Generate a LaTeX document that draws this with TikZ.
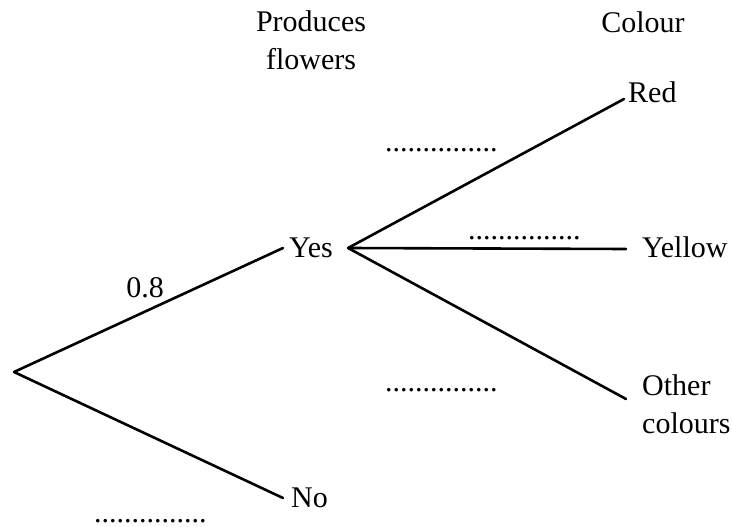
\documentclass[tikz,border=0pt]{standalone}
\usepackage{fontspec}
\setmainfont{Liberation Serif}
\begin{document}
\begin{tikzpicture}[x=1pt,y=-1pt,
  lbl/.style={inner sep=0pt, font=\fontsize{30}{38}\selectfont},
  branch/.style={line width=2.6pt, line cap=round}]
\useasboundingbox (0,0) rectangle (732,527);
% headers
\node[lbl, align=center, anchor=base] (hdr1) at (311,70) {Produces\\flowers};
\node[lbl, anchor=base] (hdr2) at (643,33) {Colour};
% nodes
\coordinate (root) at (14,372);
\node[lbl, anchor=west, inner xsep=6pt] (yes) at (283,248) {Yes};
\node[lbl, anchor=west, inner xsep=8pt] (no) at (283,498) {No};
\node[lbl, anchor=west, inner xsep=4pt] (red) at (624,92) {Red};
\node[lbl, anchor=west, inner xsep=16pt] (yellow) at (626,247) {Yellow};
\node[lbl, anchor=west, inner xsep=16pt, align=left] (other) at (626,404) {Other\\colours};
% probability labels and blanks
\node[lbl, anchor=base] (p1) at (145,297) {0.8};
\node[lbl, anchor=base west] (b1) at (94,522) {...............};
\node[lbl, anchor=base west] (b2) at (385,151) {...............};
\node[lbl, anchor=base west] (b3) at (468,239) {...............};
\node[lbl, anchor=base west] (b4) at (385,391) {...............};
% branches
\draw[branch] (root) -- (yes.west);
\draw[branch] (root) -- (no.west);
\draw[branch] ([xshift=9pt]yes.east) -- ([yshift=-7pt]red.west);
\draw[branch] ([xshift=9pt]yes.east) -- ([yshift=-2pt]yellow.west);
\draw[branch] ([xshift=9pt]yes.east) -- ([yshift=5pt]other.west);
\end{tikzpicture}
\end{document}
